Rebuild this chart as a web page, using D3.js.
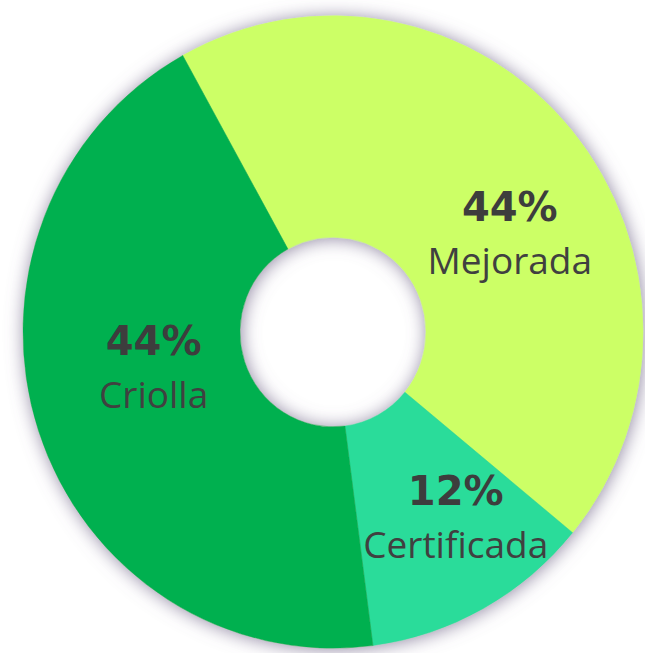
<!DOCTYPE html>
<html>
<head>
<meta charset="utf-8">
<script src="https://cdn.jsdelivr.net/npm/d3@7"></script>
<style>
  html, body { margin: 0; padding: 0; background: #ffffff; }
  svg { display: block; }
</style>
</head>
<body>
<svg id="chart" width="645" height="653"></svg>
<script>
// Data
const categories = ["Mejorada", "Certificada", "Criolla"];
const values = [44, 12, 44];
const pctLabels = ["44%", "12%", "44%"];
const colors = ["#ccff66", "#29dc9a", "#00b050"];

const svg = d3.select("#chart");
const cx = 333, cy = 332;
const outerR = 310, innerR = 93;

const defs = svg.append("defs");
const f = defs.append("filter").attr("id", "glow")
  .attr("x", "-20%").attr("y", "-20%").attr("width", "140%").attr("height", "140%");
f.append("feGaussianBlur").attr("in", "SourceAlpha").attr("stdDeviation", 9).attr("result", "b");
f.append("feOffset").attr("in", "b").attr("dx", 1).attr("dy", 1).attr("result", "o");
f.append("feFlood").attr("flood-color", "#756a8c").attr("flood-opacity", 0.8).attr("result", "c");
f.append("feComposite").attr("in", "c").attr("in2", "o").attr("operator", "in").attr("result", "s");
const m = f.append("feMerge");
m.append("feMergeNode").attr("in", "s");
m.append("feMergeNode").attr("in", "SourceGraphic");

const data = categories.map((c, i) => ({ name: c, value: values[i], pct: pctLabels[i], color: colors[i] }));

const pie = d3.pie().sort(null).value(d => d.value)
  .startAngle(-29 * Math.PI / 180)
  .endAngle((360 - 29) * Math.PI / 180);
const arcs = pie(data);

const arc = d3.arc().innerRadius(innerR).outerRadius(outerR);

const g = svg.append("g")
  .attr("transform", `translate(${cx},${cy}) scale(1,1.02)`)
  .attr("filter", "url(#glow)");

g.selectAll("path").data(arcs).enter().append("path")
  .attr("d", arc)
  .attr("fill", d => d.data.color)
  .attr("stroke", d => d.data.color)
  .attr("stroke-width", 0.5);

// label nudges relative to arc centroid
const nudge = { "Mejorada": [22, 47], "Certificada": [25, 19], "Criolla": [12, -15] };

const lg = svg.append("g").attr("transform", `translate(${cx},${cy})`);
arcs.forEach(a => {
  const [x0, y0] = arc.centroid(a);
  const [dx, dy] = nudge[a.data.name];
  const x = x0 + dx, y = y0 * 1.02 + dy;
  lg.append("text")
    .attr("x", x).attr("y", y - 26)
    .attr("text-anchor", "middle")
    .attr("font-family", "DejaVu Sans, sans-serif")
    .attr("font-weight", "bold")
    .attr("font-size", 40)
    .attr("fill", "#3d3d3d")
    .text(a.data.pct);
  lg.append("text")
    .attr("x", x).attr("y", y + 27)
    .attr("text-anchor", "middle")
    .attr("font-family", "Open Sans, sans-serif")
    .attr("font-size", 37)
    .attr("fill", "#404040")
    .text(a.data.name);
});
</script>
</body>
</html>
